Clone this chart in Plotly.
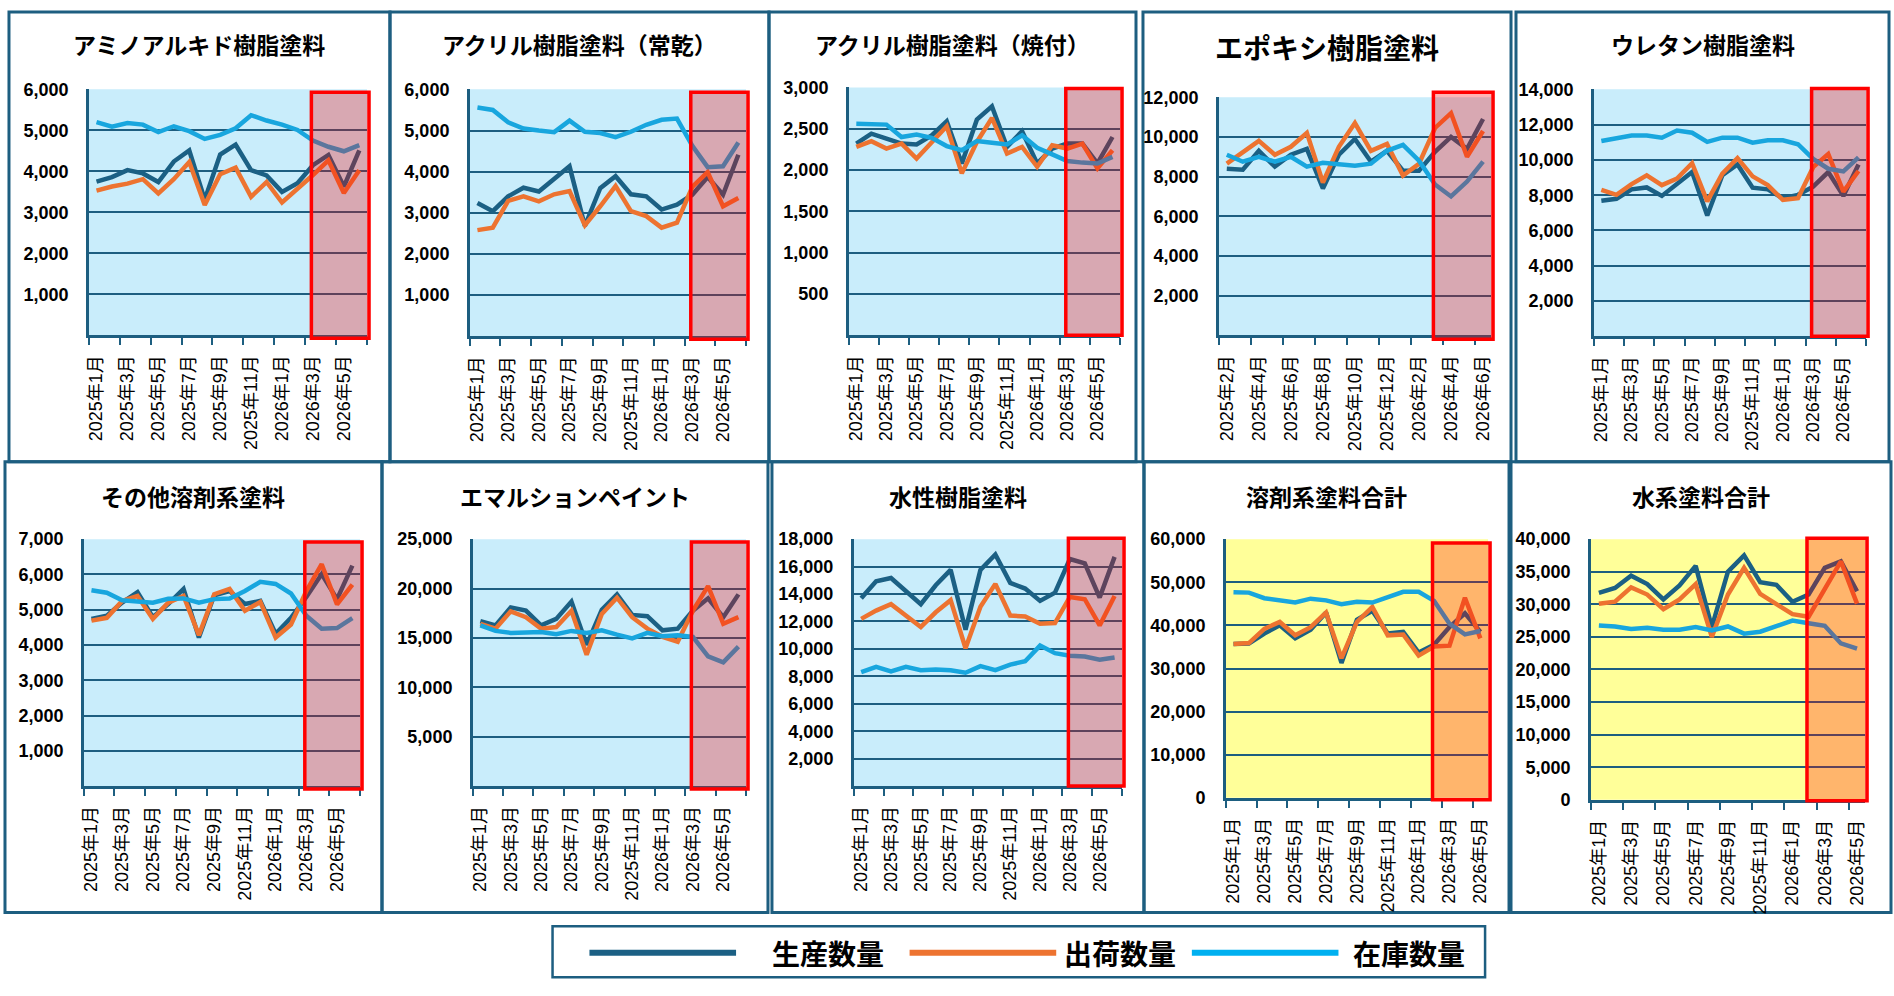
import plotly.graph_objects as go

# 月ラベル
months = ["2025年1月", "2025年2月", "2025年3月", "2025年4月", "2025年5月", "2025年6月",
          "2025年7月", "2025年8月", "2025年9月", "2025年10月", "2025年11月", "2025年12月",
          "2026年1月", "2026年2月", "2026年3月", "2026年4月", "2026年5月", "2026年6月"]
months_epoxy = months[1:]     # 2025年2月〜2026年6月
months_total = months[:17]    # 2025年1月〜2026年5月

# アミノアルキド樹脂塗料
amino_prod = [3750, 3860, 4030, 3950, 3740, 4240, 4510, 3310, 4410, 4650, 4030, 3900, 3500, 3710, 4150, 4400, 3630, 4510]
amino_ship = [3530, 3630, 3700, 3810, 3460, 3810, 4230, 3180, 3930, 4090, 3380, 3740, 3240, 3570, 3910, 4270, 3470, 4030]
amino_inv = [5200, 5090, 5180, 5140, 4960, 5100, 4980, 4790, 4890, 5050, 5370, 5240, 5140, 5010, 4750, 4600, 4490, 4640]

# アクリル樹脂塗料（常乾）
acj_prod = [3240, 3040, 3400, 3610, 3520, 3830, 4130, 2680, 3600, 3890, 3450, 3400, 3080, 3200, 3440, 3870, 3440, 4410]
acj_ship = [2580, 2640, 3290, 3400, 3280, 3450, 3530, 2700, 3160, 3650, 3040, 2920, 2640, 2760, 3630, 3990, 3160, 3360]
acj_inv = [5560, 5500, 5200, 5050, 5000, 4960, 5240, 4970, 4940, 4840, 4970, 5140, 5260, 5290, 4630, 4110, 4130, 4710]

# アクリル樹脂塗料（焼付）
acy_prod = [2320, 2440, 2380, 2320, 2310, 2420, 2590, 2080, 2610, 2770, 2280, 2470, 2080, 2260, 2320, 2320, 2080, 2400]
acy_ship = [2280, 2350, 2260, 2320, 2140, 2340, 2530, 1960, 2340, 2630, 2200, 2280, 2040, 2300, 2260, 2320, 2020, 2240]
acy_inv = [2560, 2550, 2550, 2400, 2430, 2390, 2290, 2240, 2350, 2330, 2310, 2420, 2270, 2190, 2110, 2090, 2080, 2160]

# エポキシ樹脂塗料
epo_prod = [8400, 8350, 9300, 8500, 9100, 9400, 7400, 9100, 9900, 8750, 9300, 8300, 8300, 9250, 10000, 9400, 10900]
epo_ship = [8650, 9250, 9800, 9100, 9500, 10200, 7700, 9500, 10700, 9300, 9650, 8050, 8650, 10450, 11200, 9000, 10300]
epo_inv = [9100, 8750, 9000, 8750, 9000, 8500, 8700, 8650, 8550, 8650, 9300, 9600, 8800, 7600, 7000, 7750, 8750]

# ウレタン樹脂塗料
ure_prod = [7690, 7800, 8330, 8440, 7960, 8670, 9310, 6850, 9130, 9740, 8430, 8330, 7830, 8020, 8480, 9310, 7960, 9740]
ure_ship = [8300, 8020, 8630, 9130, 8570, 8940, 9810, 7650, 9220, 10100, 9070, 8570, 7740, 7830, 9590, 10330, 8200, 9370]
ure_inv = [11070, 11260, 11390, 11390, 11260, 11670, 11540, 11020, 11260, 11260, 10980, 11110, 11110, 10890, 10060, 9500, 9350, 10150]

# その他溶剤系塗料
oth_prod = [4740, 4830, 5200, 5500, 4790, 5160, 5590, 4210, 5410, 5530, 5160, 5250, 4320, 4770, 5360, 6010, 5300, 6250]
oth_ship = [4690, 4770, 5250, 5390, 4740, 5200, 5390, 4280, 5440, 5590, 4970, 5220, 4210, 4580, 5530, 6290, 5150, 5710]
oth_inv = [5550, 5480, 5270, 5230, 5200, 5310, 5320, 5200, 5300, 5320, 5530, 5790, 5730, 5460, 4830, 4460, 4480, 4760]

# エマルションペイント
emu_prod = [16700, 16270, 18090, 17760, 16270, 16930, 18680, 14300, 17860, 19410, 17330, 17200, 15770, 15940, 17760, 19010, 17100, 19410]
emu_ship = [16430, 15940, 17690, 17100, 15940, 16100, 17760, 13290, 17430, 19080, 17100, 15940, 15110, 14620, 17760, 20240, 16430, 17100]
emu_inv = [16270, 15710, 15510, 15610, 15610, 15380, 15710, 15510, 15770, 15340, 14950, 15510, 15180, 15280, 15100, 13130, 12530, 14120]

# 水性樹脂塗料
wat_prod = [13690, 14930, 15170, 14170, 13260, 14640, 15760, 11400, 15760, 16880, 14810, 14400, 13500, 14100, 16550, 16240, 13740, 16710]
wat_ship = [12190, 12790, 13260, 12430, 11600, 12670, 13550, 10050, 13070, 14740, 12430, 12360, 11830, 11880, 13790, 13620, 11710, 13860]
wat_inv = [8310, 8690, 8360, 8690, 8450, 8500, 8450, 8260, 8740, 8450, 8860, 9100, 10240, 9690, 9500, 9450, 9210, 9380]

# 溶剤系塗料合計
sol_prod = [35700, 35800, 38100, 40000, 37000, 39000, 43000, 31300, 41300, 43400, 38100, 38500, 33700, 35500, 39600, 42800, 38500]
sol_ship = [35700, 35900, 39200, 40800, 37700, 39600, 43000, 32400, 40800, 44300, 37700, 37900, 33000, 35100, 35300, 46400, 37000]
sol_inv = [47700, 47600, 46300, 45800, 45300, 46200, 45800, 44900, 45500, 45300, 46600, 47800, 47800, 45700, 40400, 37900, 38700]

# 水系塗料合計
aq_prod = [31760, 32500, 34400, 33100, 30750, 32900, 35900, 26500, 35000, 37500, 33400, 33000, 30400, 31500, 35600, 36600, 32000]
aq_ship = [30100, 30400, 32600, 31500, 29250, 30750, 33100, 25000, 31500, 35600, 31600, 30000, 28500, 28100, 32500, 36600, 30100]
aq_inv = [26740, 26600, 26200, 26400, 26100, 26100, 26500, 26000, 26600, 25500, 25800, 26600, 27500, 27100, 26700, 24000, 23200]

series_names = ["生産数量", "出荷数量", "在庫数量"]

# 色
DARK = "#1d5e80"
C_PROD = "#1b6084"
C_SHIP = "#ed7330"
C_INV = "#18a6de"
C_INV_LEG = "#00b0f0"
BG_BLUE = "#c9edfb"
BG_YELLOW = "#ffff99"
BOX_FILL = "rgba(255,0,0,0.29)"

W, H = 1894, 996
CJK = "Noto Sans CJK JP"
LAT = "Liberation Sans, Noto Sans CJK JP"

# パネル配置（ピクセル）
panels = [
    dict(title="アミノアルキド樹脂塗料", months=months, data=(amino_prod, amino_ship, amino_inv),
         ymax=6000, ystep=1000, zero=False, bg=BG_BLUE,
         plot=(86, 81, 365, 332), frame=(6, 2, 388, 461), ty=35, ts=23, pad=(3, 3)),
    dict(title="アクリル樹脂塗料（常乾）", months=months, data=(acj_prod, acj_ship, acj_inv),
         ymax=6000, ystep=1000, zero=False, bg=BG_BLUE,
         plot=(468, 81, 745, 333), frame=(388, 2, 768, 461), ty=35, ts=23, pad=(3, 3)),
    dict(title="アクリル樹脂塗料（焼付）", months=months, data=(acy_prod, acy_ship, acy_inv),
         ymax=3000, ystep=500, zero=False, bg=BG_BLUE,
         plot=(848, 79, 1120, 332), frame=(768, 2, 1136, 461), ty=35, ts=23, pad=(1, 0)),
    dict(title="エポキシ樹脂塗料", months=months_epoxy, data=(epo_prod, epo_ship, epo_inv),
         ymax=12000, ystep=2000, zero=False, bg=BG_BLUE,
         plot=(1219, 89, 1492, 332), frame=(1143, 2, 1512, 461), ty=38, ts=28, pad=(-5, 4)),
    dict(title="ウレタン樹脂塗料", months=months, data=(ure_prod, ure_ship, ure_inv),
         ymax=14000, ystep=2000, zero=False, bg=BG_BLUE,
         plot=(1595, 81, 1868, 333), frame=(1517, 2, 1891, 461), ty=35, ts=23, pad=(-1, 0)),
    dict(title="その他溶剤系塗料", months=months, data=(oth_prod, oth_ship, oth_inv),
         ymax=7000, ystep=1000, zero=False, bg=BG_BLUE,
         plot=(81, 540, 358, 792), frame=(2, 461, 380, 921), ty=496, ts=23, pad=(3, 3)),
    dict(title="エマルションペイント", months=months, data=(emu_prod, emu_ship, emu_inv),
         ymax=25000, ystep=5000, zero=False, bg=BG_BLUE,
         plot=(471, 540, 745, 792), frame=(380, 461, 767, 921), ty=496, ts=23, pad=(3, 3)),
    dict(title="水性樹脂塗料", months=months, data=(wat_prod, wat_ship, wat_inv),
         ymax=18000, ystep=2000, zero=False, bg=BG_BLUE,
         plot=(853, 540, 1122, 792), frame=(771, 461, 1144, 921), ty=496, ts=23, pad=(-1, 0)),
    dict(title="溶剤系塗料合計", months=months_total, data=(sol_prod, sol_ship, sol_inv),
         ymax=60000, ystep=10000, zero=True, bg=BG_YELLOW,
         plot=(1226, 540, 1489, 804), frame=(1144, 461, 1510, 921), ty=496, ts=23, pad=(4, 2)),
    dict(title="水系塗料合計", months=months_total, data=(aq_prod, aq_ship, aq_inv),
         ymax=40000, ystep=5000, zero=True, bg=BG_YELLOW,
         plot=(1592, 540, 1867, 806), frame=(1512, 461, 1893, 921), ty=496, ts=23, pad=(-1, 1)),
]


def fx(v):
    return v / W


def fy(v):
    return 1 - v / H


fig = go.Figure()
shapes = []
annotations = []
layout_axes = {}

for i, p in enumerate(panels, start=1):
    sfx = "" if i == 1 else str(i)
    n = len(p["months"])
    x0, y0, x1, y1 = p["plot"]
    idx = list(range(n))

    for vals, color in zip(p["data"], [C_PROD, C_SHIP, C_INV]):
        fig.add_trace(go.Scatter(
            x=idx, y=vals, mode="lines", xaxis="x" + sfx, yaxis="y" + sfx,
            line=dict(color=color, width=4.5), showlegend=False, hoverinfo="skip",
        ))

    start = 0 if p["zero"] else p["ystep"]
    yticks = list(range(start, p["ymax"] + 1, p["ystep"]))

    layout_axes["xaxis" + sfx] = dict(
        domain=[fx(x0), fx(x1)], range=[-0.5, n - 0.5], anchor="y" + sfx,
        tickmode="array", tickvals=idx[::2], ticktext=p["months"][::2],
        tickangle=-90, ticks="", showgrid=False, zeroline=False,
        showline=True, linecolor=DARK, linewidth=2.5,
        tickfont=dict(family=LAT, size=18, color="black"), ticklabelstandoff=10,
        minor=dict(tickmode="array", tickvals=[k - 0.5 for k in range(0, n + 1, 2)],
                   ticks="outside", ticklen=7, tickwidth=2, tickcolor=DARK, showgrid=False),
    )
    layout_axes["yaxis" + sfx] = dict(
        domain=[fy(y1), fy(y0)], range=[0, p["ymax"]], anchor="x" + sfx,
        tickmode="array", tickvals=yticks, tickformat=",d",
        showgrid=True, gridcolor=DARK, gridwidth=2, zeroline=False,
        showline=True, linecolor=DARK, linewidth=2.5, ticks="",
        tickfont=dict(family=LAT, size=18, color="black", weight="bold"), ticklabelstandoff=14,
    )

    # 背景
    shapes.append(dict(type="rect", xref="paper", yref="paper", layer="below",
                       x0=fx(x0), x1=fx(x1), y0=fy(y1), y1=fy(y0),
                       fillcolor=p["bg"], line=dict(width=0)))
    # パネル枠
    fx0, fy0, fx1, fy1 = p["frame"]
    shapes.append(dict(type="rect", xref="paper", yref="paper", layer="below",
                       x0=fx(fx0), x1=fx(fx1), y0=fy(fy1), y1=fy(fy0),
                       line=dict(color=DARK, width=3)))
    # 直近4か月の強調枠
    cw = (x1 - x0) / n
    bx0 = x0 + (n - 4 + 0.4) * cw
    shapes.append(dict(type="rect", xref="paper", yref="paper", layer="above",
                       x0=fx(bx0), x1=fx(x1 + 2), y0=fy(y1 + p["pad"][1]), y1=fy(y0 + p["pad"][0]),
                       fillcolor=BOX_FILL, line=dict(color="#ff0000", width=3.5)))
    # タイトル
    annotations.append(dict(text=p["title"], xref="paper", yref="paper",
                            x=fx((fx0 + fx1) / 2), y=fy(p["ty"]), xanchor="center", yanchor="middle",
                            showarrow=False, font=dict(family=CJK, size=p["ts"], color="black", weight="bold")))

# 凡例
shapes.append(dict(type="rect", xref="paper", yref="paper", layer="below",
                   x0=fx(551), x1=fx(1486), y0=fy(987), y1=fy(935),
                   line=dict(color=DARK, width=2.5)))
leg_lines = [(588, 735), (909, 1056), (1192, 1339)]
leg_text_x = [827, 1120, 1410]
for (lx0, lx1), tx, name, color in zip(leg_lines, leg_text_x, series_names, [C_PROD, C_SHIP, C_INV_LEG]):
    shapes.append(dict(type="line", xref="paper", yref="paper",
                       x0=fx(lx0), x1=fx(lx1), y0=fy(962), y1=fy(962),
                       line=dict(color=color, width=6)))
    annotations.append(dict(text=name, xref="paper", yref="paper", x=fx(tx), y=fy(962),
                            xanchor="center", yanchor="middle", showarrow=False,
                            font=dict(family=CJK, size=28, color="black", weight="bold")))

fig.update_layout(
    width=W, height=H, autosize=False,
    margin=dict(l=0, r=0, t=0, b=0),
    paper_bgcolor="white", plot_bgcolor="rgba(0,0,0,0)",
    shapes=shapes, annotations=annotations, showlegend=False,
    **layout_axes,
)

fig.write_html("out.html", config={"displayModeBar": False},
               post_script="document.body.style.margin='0px';document.body.style.overflow='hidden';")
